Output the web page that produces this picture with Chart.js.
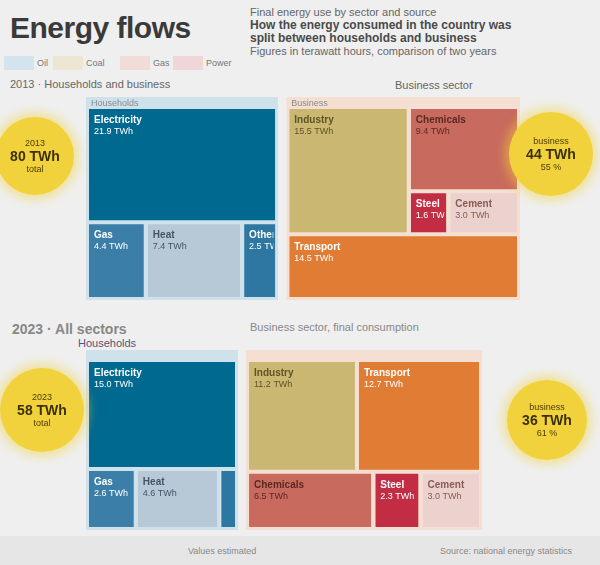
<!DOCTYPE html>
<html><head><meta charset="utf-8">
<script src="https://cdn.jsdelivr.net/npm/chart.js@4"></script>
<style>
body{margin:0;width:600px;height:565px;background:#efefef;font-family:"Liberation Sans",Arial,sans-serif;position:relative;overflow:hidden;color:#444}
.abs{position:absolute}
#title{left:10px;top:11px;font-size:30px;font-weight:bold;color:#3a3a3a;letter-spacing:-0.5px}
#sub{left:250px;top:6px;width:300px;font-size:11px;line-height:13px;color:#666}
#sub b{color:#4a4a4a;font-size:12px}
.leg{top:56px;font-size:9px;color:#777;display:flex;align-items:center}
.sw{width:30px;height:14px;margin-right:3px}
.ph{font-size:11px;color:#666}
.circ{position:absolute;border-radius:50%;background:#f2d23c;box-shadow:0 0 10px 5px rgba(242,210,60,0.45);display:flex;flex-direction:column;align-items:center;justify-content:center;text-align:center;color:#4a3d00}
.circ .s{font-size:9px}
.circ .b{font-size:14px;font-weight:bold;color:#3b3000}
canvas{position:absolute;left:0}
#foot{left:0;top:536px;width:600px;height:29px;background:#e6e6e6;font-size:9px;color:#888}
</style></head><body>
<div id="title" class="abs">Energy flows</div>
<div id="sub" class="abs">Final energy use by sector and source<br><b>How the energy consumed in the country was<br>split between households and business</b><br>Figures in terawatt hours, comparison of two years</div>
<div class="abs leg" style="left:4px"><div class="sw" style="background:#d3e4ee"></div>Oil</div>
<div class="abs leg" style="left:53px"><div class="sw" style="background:#ece6d3"></div>Coal</div>
<div class="abs leg" style="left:120px"><div class="sw" style="background:#f1dcd7"></div>Gas</div>
<div class="abs leg" style="left:173px"><div class="sw" style="background:#f0d6d8"></div>Power</div>
<div class="abs ph" style="left:10px;top:78px">2013 · Households and business</div>
<div class="abs ph" style="left:395px;top:79px">Business sector</div>
<div class="abs ph" style="left:12px;top:321px;font-size:14px;color:#888;font-weight:bold">2023 · All sectors</div>
<div class="abs ph" style="left:78px;top:337px;color:#557;">Households</div>
<div class="abs ph" style="left:250px;top:321px;color:#888">Business sector, final consumption</div>

<canvas id="c1" width="600" height="215" style="top:92px;width:600px;height:215px"></canvas>
<canvas id="c2" width="600" height="190" style="top:345px;width:600px;height:190px"></canvas>

<div class="circ" style="left:-4px;top:117px;width:78px;height:78px"><span class="s">2013</span><span class="b">80 TWh</span><span class="s">total</span></div>
<div class="circ" style="left:509px;top:112px;width:84px;height:84px"><span class="s">business</span><span class="b">44 TWh</span><span class="s">55 %</span></div>
<div class="circ" style="left:0px;top:368px;width:84px;height:84px"><span class="s">2023</span><span class="b">58 TWh</span><span class="s">total</span></div>
<div class="circ" style="left:507px;top:380px;width:80px;height:80px"><span class="s">business</span><span class="b">36 TWh</span><span class="s">61 %</span></div>

<div id="foot" class="abs"><span class="abs" style="left:188px;top:10px">Values estimated</span><span class="abs" style="left:440px;top:10px">Source: national energy statistics</span></div>

<script>
// ---- DATA ----
const topGroupNames = ["Households", "Business"];
const topNames = ["Electricity", "Gas", "Heat", "Other", "Industry", "Chemicals", "Steel", "Cement", "Transport"];
const topValues = [21.9, 4.4, 7.4, 2.5, 15.5, 9.4, 1.6, 3.0, 14.5];
const topTree = ["h", ["v", 0, ["h", 1, 2, 3]], ["v", ["h", 4, ["v", 5, ["h", 6, 7]]], 8]];

const botGroupNames = ["", ""];
const botNames = ["Electricity", "Gas", "Heat", "Other", "Industry", "Transport", "Chemicals", "Steel", "Cement"];
const botValues = [15.0, 2.6, 4.6, 0.8, 11.2, 12.7, 6.5, 2.3, 3.0];
const botTree = ["h", ["v", 0, ["h", 1, 2, 3]], ["v", ["h", 4, 5], ["h", 6, 7, 8]]];

// ---- STYLE ----
const topColors = ["#00698f", "#3b7ea7", "#b7c9d6", "#2e77a2", "#c9b772", "#c86a5e", "#c22d44", "#ecd2ce", "#e07c34"];
const topText = ["#fff", "#fff", "#456", "#fff", "#5e5426", "#5a2a24", "#fff", "#8a5a55", "#fff"];
const botColors = ["#00698f", "#3b7ea7", "#b7c9d6", "#2e77a2", "#c9b772", "#e07c34", "#c86a5e", "#c22d44", "#ecd2ce"];
const botText = ["#fff", "#fff", "#456", "#fff", "#5e5426", "#fff", "#5a2a24", "#fff", "#8a5a55"];
const groupBg = ["#cfe1eb", "#f4dfd2"];

function sumNode(n, v) { return typeof n === 'number' ? v[n] : n.slice(1).reduce((s, c) => s + sumNode(c, v), 0); }
function split(n, v, r, gap) {
  const dir = n[0], kids = n.slice(1), tot = sumNode(n, v);
  const span = dir === 'h' ? r.x1 - r.x0 : r.y1 - r.y0;
  const avail = span - gap * (kids.length - 1);
  let p = dir === 'h' ? r.x0 : r.y0;
  return kids.map(k => {
    const s = avail * sumNode(k, v) / tot;
    const rr = dir === 'h' ? {x0: p, x1: p + s, y0: r.y0, y1: r.y1} : {x0: r.x0, x1: r.x1, y0: p, y1: p + s};
    p += s + gap;
    return {node: k, r: rr};
  });
}
function place(n, v, r, gap, out) {
  if (typeof n === 'number') { out.push(Object.assign({i: n}, r)); return; }
  split(n, v, r, gap).forEach(c => place(c.node, v, c.r, gap, out));
}
function rectDs(r, color, order) {
  return {data: [{x: r.x0, y: r.y0}, {x: r.x1, y: r.y0}], fill: {value: r.y1}, backgroundColor: color,
    borderColor: 'rgba(0,0,0,0)', borderWidth: 0, pointRadius: 0, pointHoverRadius: 0, order: order, tension: 0};
}
function makePanel(id, H, box, names, vals, tree, gnames, colors, tcolors) {
  const groups = split(tree, vals, box, 8);
  const leaves = [], bgs = [];
  groups.forEach(g => {
    bgs.push(g.r);
    const inner = {x0: g.r.x0 + 3, x1: g.r.x1 - 3, y0: g.r.y0 + 12, y1: g.r.y1 - 3};
    place(g.node, vals, inner, 4, leaves);
  });
  const ds = [];
  bgs.forEach((g, k) => ds.push(rectDs(g, groupBg[k], 2)));
  leaves.forEach(l => ds.push(rectDs(l, colors[l.i], 1)));
  new Chart(document.getElementById(id), {
    type: 'line',
    data: {datasets: ds},
    options: {
      responsive: false, animation: false, events: [],
      layout: {padding: 0},
      scales: {x: {type: 'linear', min: 0, max: 600, display: false},
               y: {type: 'linear', min: 0, max: H, reverse: true, display: false}},
      plugins: {legend: {display: false}, tooltip: {enabled: false}}
    },
    plugins: [{
      id: 'labels',
      afterDatasetsDraw(chart) {
        const c = chart.ctx, xs = chart.scales.x, ys = chart.scales.y;
        c.save(); c.textBaseline = 'top';
        bgs.forEach((g, k) => {
          c.fillStyle = '#8a8a8a'; c.font = '9px "Liberation Sans", Arial';
          c.fillText(gnames[k], xs.getPixelForValue(g.x0) + 5, ys.getPixelForValue(g.y0) + 2);
        });
        leaves.forEach(l => {
          const px0 = xs.getPixelForValue(l.x0), px1 = xs.getPixelForValue(l.x1);
          const py0 = ys.getPixelForValue(l.y0), py1 = ys.getPixelForValue(l.y1);
          if (px1 - px0 < 28) return;
          c.save();
          c.beginPath(); c.rect(px0, py0, px1 - px0 - 2, py1 - py0); c.clip();
          c.fillStyle = tcolors[l.i];
          c.font = 'bold 10px "Liberation Sans", Arial';
          c.fillText(names[l.i], px0 + 5, py0 + 6);
          c.font = '9px "Liberation Sans", Arial';
          c.fillText(vals[l.i].toFixed(1) + ' TWh', px0 + 5, py0 + 18);
          c.restore();
        });
        c.restore();
      }
    }]
  });
}
makePanel('c1', 215, {x0: 86, x1: 520, y0: 5, y1: 208}, topNames, topValues, topTree, topGroupNames, topColors, topText);
makePanel('c2', 190, {x0: 86, x1: 482, y0: 5, y1: 185}, botNames, botValues, botTree, botGroupNames, botColors, botText);
</script>
</body></html>
